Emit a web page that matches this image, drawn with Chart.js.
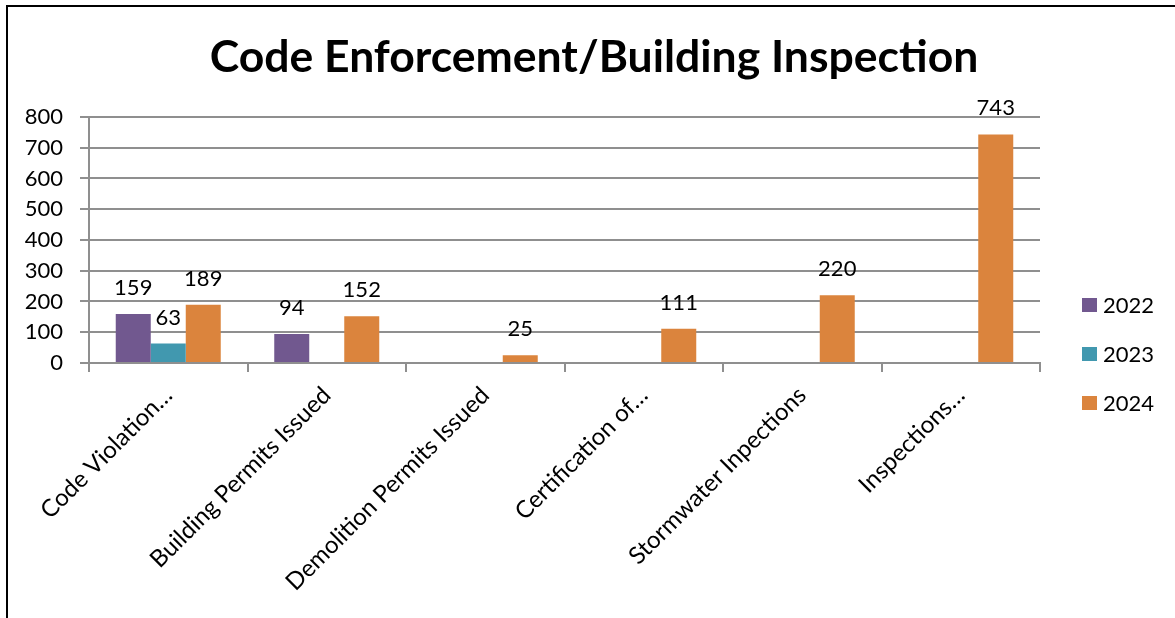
<!DOCTYPE html>
<html>
<head>
<meta charset="utf-8">
<script src="https://cdn.jsdelivr.net/npm/chart.js@4"></script>
<style>
html,body{margin:0;padding:0;background:#fff;}
canvas{display:block;}
</style>
</head>
<body>
<canvas id="c" width="1175" height="618"></canvas>
<script>
const categories = ["Code Violation…", "Building Permits Issued", "Demolition Permits Issued", "Certification of…", "Stormwater Inpections", "Inspections…"];
const seriesNames = ["2022", "2023", "2024"];
const values2022 = [159, 94, null, null, null, null];
const values2023 = [63, null, null, null, null, null];
const values2024 = [189, 152, 25, 111, 220, 743];
const yTicks = [0, 100, 200, 300, 400, 500, 600, 700, 800];
const colors = ["#71588F", "#4198AF", "#DB843D"];

const FONT = "Lato";
const GRID = "#8f8f8f";

const framePlugin = {
  id: 'frame',
  beforeDraw(chart) {
    const ctx = chart.ctx;
    ctx.save();
    ctx.fillStyle = '#fff';
    ctx.fillRect(0, 0, chart.width, chart.height);
    ctx.fillStyle = '#000';
    ctx.fillRect(6, 5, chart.width - 6, 2);
    ctx.fillRect(6, 5, 2, chart.height - 5);
    ctx.restore();
  }
};

const valueLabels = {
  id: 'valueLabels',
  afterDatasetsDraw(chart) {
    const ctx = chart.ctx;
    ctx.save();
    ctx.font = "22px " + FONT;
    ctx.fillStyle = '#000';
    ctx.textAlign = 'center';
    ctx.textBaseline = 'alphabetic';
    chart.data.datasets.forEach((ds, i) => {
      const meta = chart.getDatasetMeta(i);
      meta.data.forEach((el, j) => {
        const v = ds.data[j];
        if (v === null || v === undefined) return;
        ctx.fillText(String(v), el.x, el.y - 19);
      });
    });
    ctx.restore();
  }
};

const customLegend = {
  id: 'customLegend',
  afterDraw(chart) {
    const ctx = chart.ctx;
    ctx.save();
    ctx.font = "22px " + FONT;
    ctx.textAlign = 'left';
    ctx.textBaseline = 'middle';
    chart.data.datasets.forEach((ds, i) => {
      const cy = 305 + i * 49;
      ctx.fillStyle = ds.backgroundColor;
      ctx.fillRect(1082, cy - 7, 15, 14);
      ctx.fillStyle = '#000';
      ctx.fillText(ds.label, 1103, cy + 1);
    });
    ctx.restore();
  }
};

new Chart(document.getElementById('c'), {
  type: 'bar',
  data: {
    labels: categories,
    datasets: [
      { label: seriesNames[0], data: values2022, backgroundColor: colors[0] },
      { label: seriesNames[1], data: values2023, backgroundColor: colors[1] },
      { label: seriesNames[2], data: values2024, backgroundColor: colors[2] }
    ]
  },
  options: {
    responsive: false,
    animation: false,
    devicePixelRatio: 1,
    layout: { padding: { left: 13, right: 0, top: 0, bottom: 0 } },
    datasets: { bar: { categoryPercentage: 0.6625, barPercentage: 1.0 } },
    plugins: {
      legend: { display: false },
      tooltip: { enabled: false },
      title: {
        display: true,
        text: 'Code Enforcement/Building Inspection',
        color: '#000',
        font: { family: FONT, size: 44.5, weight: 'bold', lineHeight: 1.1 },
        padding: { top: 33, bottom: 35 }
      }
    },
    scales: {
      x: {
        offset: true,
        grid: { display: true, drawOnChartArea: false, drawTicks: true, tickLength: 9, color: GRID, lineWidth: 2, offset: true },
        border: { display: true, color: GRID, width: 2 },
        ticks: { color: '#000', font: { family: FONT, size: 24 }, minRotation: 45, maxRotation: 45, padding: 9, autoSkip: false },
        afterFit(scale) { scale.height = 255; }
      },
      y: {
        min: 0, max: 800,
        afterBuildTicks(scale) { scale.ticks = yTicks.map(v => ({ value: v })); },
        grid: { color: GRID, lineWidth: 2, tickLength: 9, drawTicks: true },
        border: { display: true, color: GRID, width: 2 },
        ticks: { color: '#000', font: { family: FONT, size: 22 }, padding: 17 },
        afterFit(scale) { scale.width = 76; }
      },
      legendSpace: {
        type: 'linear',
        position: 'right',
        display: true,
        grid: { display: false, drawTicks: false },
        border: { display: false },
        ticks: { display: false },
        afterFit(scale) { scale.width = 135; }
      }
    }
  },
  plugins: [framePlugin, valueLabels, customLegend]
});
</script>
</body>
</html>
